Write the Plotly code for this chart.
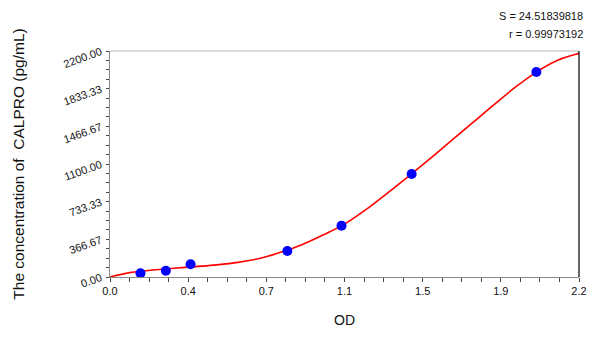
import plotly.graph_objects as go

# Standard points (OD, concentration)
od_points = [0.143, 0.262, 0.378, 0.832, 1.086, 1.415, 2.0]
conc_points = [36, 61, 124, 253, 500, 1003, 1995]

# Fitted curve
curve_od = [0.0, 0.1, 0.2, 0.3, 0.4, 0.5, 0.6, 0.7, 0.8, 0.9, 1.0, 1.1,
            1.2, 1.3, 1.4, 1.5, 1.6, 1.7, 1.8, 1.9, 2.0, 2.1, 2.2]
curve_conc = [0, 45, 68, 85, 101, 118, 142, 180, 240, 315, 410, 515,
              655, 815, 980, 1150, 1325, 1500, 1675, 1845, 1995, 2110, 2177]

x_tickvals = [0.0, 2.2 / 6, 4.4 / 6, 1.1, 8.8 / 6, 11.0 / 6, 2.2]
x_ticktext = ["0.0", "0.4", "0.7", "1.1", "1.5", "1.9", "2.2"]
y_tickvals = [0, 366.67, 733.33, 1100, 1466.67, 1833.33, 2200]
y_ticktext = ["0.00", "366.67", "733.33", "1100.00", "1466.67", "1833.33", "2200.00"]

stats_text = ["S = 24.51839818", "r = 0.99973192"]

FONT = "Arial, Liberation Sans, sans-serif"

fig = go.Figure()
fig.add_trace(go.Scatter(
    x=curve_od, y=curve_conc, mode="lines",
    line=dict(color="#ff0000", width=1.6, shape="spline", smoothing=1.0),
    hoverinfo="skip", showlegend=False, cliponaxis=False))
fig.add_trace(go.Scatter(
    x=od_points, y=conc_points, mode="markers",
    marker=dict(color="#0000ff", size=10, line=dict(width=0)),
    showlegend=False, cliponaxis=False))

fig.update_layout(
    width=600, height=337,
    margin=dict(l=110, r=21, t=51, b=60),
    paper_bgcolor="white", plot_bgcolor="white",
    font=dict(family=FONT, size=11, color="#111"),
    xaxis=dict(
        range=[0, 2.2], tickvals=x_tickvals, ticktext=x_ticktext,
        showgrid=False, zeroline=False, showline=True, linecolor="#888", linewidth=1,
        ticks="outside", ticklen=4, tickcolor="#444", tickwidth=1,
        minor=dict(dtick=2.2 / 24, tick0=0, ticks="outside", ticklen=4, tickcolor="#444", showgrid=False),
        tickfont=dict(size=11, family=FONT, color="#111"),
        title=dict(text="OD", font=dict(size=14, family=FONT, color="#111"), standoff=18),
    ),
    yaxis=dict(
        range=[0, 2200], tickvals=y_tickvals, ticktext=y_ticktext,
        showgrid=False, zeroline=False, showline=True, linecolor="#888", linewidth=1,
        ticks="outside", ticklen=3, tickcolor="#444", tickwidth=1,
        minor=dict(dtick=2200 / 24, tick0=0, ticks="outside", ticklen=3, tickcolor="#444", showgrid=False),
        tickangle=-20, ticklabelstandoff=3,
        tickfont=dict(size=11, family=FONT, color="#111"),
        title=dict(text="The concentration of  CALPRO (pg/mL)",
                   font=dict(size=15.5, family=FONT, color="#111"), standoff=33),
    ),
    shapes=[
        dict(type="line", xref="paper", yref="paper", x0=0, x1=1, y0=1, y1=1,
             line=dict(color="#cccccc", width=1.5)),
        dict(type="line", xref="paper", yref="paper", x0=1, x1=1, y0=0, y1=1,
             line=dict(color="#000000", width=1.2)),
    ],
    annotations=[
        dict(text=stats_text[0], xref="paper", yref="paper", x=1.013, y=1.155,
             xanchor="right", yanchor="middle", showarrow=False,
             font=dict(size=11, family=FONT, color="#111")),
        dict(text=stats_text[1], xref="paper", yref="paper", x=1.013, y=1.075,
             xanchor="right", yanchor="middle", showarrow=False,
             font=dict(size=11, family=FONT, color="#111")),
    ],
)

fig.write_html("out.html")
